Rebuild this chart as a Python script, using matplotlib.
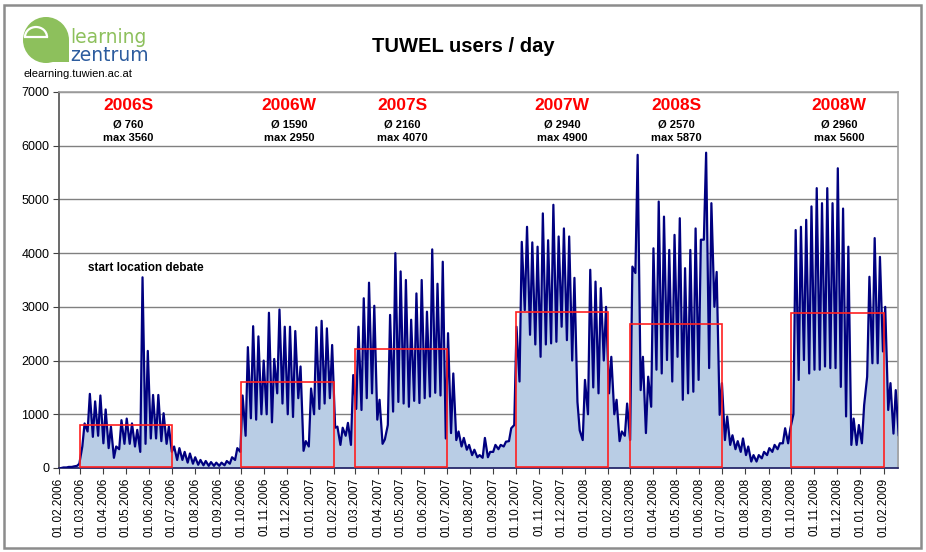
import matplotlib
matplotlib.use('Agg')
import matplotlib.pyplot as plt
import matplotlib.dates as mdates
import matplotlib.patches as mpatches
import numpy as np

# weekly readings, week 0 starts 01.02.2006
# weekday peak and weekend low per week
weekly_peak = [
    10, 20, 30, 80,
    830, 1380, 1240, 1350, 1090, 770, 400, 890, 920, 830, 710, 3550,
    2180, 1360, 1360, 1020, 770, 400, 370, 300, 270,
    200, 150, 130, 110, 100, 100, 130, 200, 370, 1350,
    2250, 2640, 2450, 2000, 2890, 2030, 2950, 2630, 2630, 2550, 1890,
    500, 1480, 2620, 2740, 2600, 2290,
    770, 750, 840, 1730,
    2630, 3160, 3450, 3020, 1270, 530, 2850, 4000, 3660, 3500, 2760,
    3250, 3500, 2910, 4070, 3430, 3840, 2510,
    1760, 680, 560, 430, 340, 240, 560, 300, 430, 430, 490, 740,
    2630, 4210, 4490, 4200, 4120, 4740, 4240, 4900, 4310, 4460, 4310,
    3540, 700, 1640, 3690, 3470, 3350, 3000,
    2070, 1270, 680,
    1200, 3750, 5830, 2070, 1700, 4090, 4960, 4680, 4060, 4340, 4650,
    3720, 4060, 4460, 4250, 5870, 4930, 3650, 1580,
    960, 610, 500, 550, 400, 240, 240, 300, 370, 430, 460, 740, 740,
    4430, 4490, 4620, 4870, 5210, 4930, 5210, 4930, 5580, 4830, 4120,
    920, 800, 1170, 3560, 4280, 3930, 3000,
    1580, 1450, 1450,
]
weekly_low = [
    0, 10, 20, 40,
    400, 680, 580, 600, 460, 370, 190, 350, 450, 450, 400, 300,
    450, 550, 550, 500, 450, 300, 150, 150, 100,
    80, 60, 50, 40, 40, 40, 50, 80, 150, 300,
    600, 925, 900, 1000, 1000, 850, 1390, 1200, 1000, 950, 1300,
    320, 400, 1000, 1100, 1200, 1300,
    750, 430, 600, 430,
    1100, 1080, 1300, 1390, 900, 450, 800, 1050, 1230, 1200, 1140,
    1250, 1210, 1300, 1330, 1400, 1350, 550,
    650, 520, 400, 340, 240, 200, 190, 200, 300, 350, 400, 500,
    800, 1610, 2940, 2480, 2300, 2070, 2300, 2320, 2350, 2630, 2380,
    2000, 1230, 520, 1000, 1500, 1390, 2000,
    1390, 1000, 500,
    600, 520, 3630, 1450, 650, 1140, 1830, 1760, 2010, 1610, 2070,
    1270, 1390, 1420, 1640, 4250, 1860, 3000, 990,
    520, 430, 350, 300, 240, 120, 120, 180, 240, 300, 350, 460, 460,
    1000, 1640, 2010, 1760, 1830, 1830, 1890, 1860, 1860, 1510, 960,
    430, 430, 460, 1700, 1950, 1950, 2170,
    1080, 640, 600,
]

sem_names = ['2006S', '2006W', '2007S', '2007W', '2008S', '2008W']
sem_avg = [760, 1590, 2160, 2940, 2570, 2960]
sem_max = [3560, 2950, 4070, 4900, 5870, 5600]
sem_start = ['2006-03-01', '2006-10-01', '2007-03-01', '2007-10-01', '2008-03-01', '2008-10-01']
sem_end = ['2006-07-01', '2007-02-01', '2007-07-01', '2008-02-01', '2008-07-01', '2009-02-01']
sem_level = [800, 1600, 2220, 2900, 2690, 2890]
sem_label_x = [128, 289, 402, 562, 676, 839]

start = mdates.date2num(np.datetime64('2006-02-01'))
end = mdates.date2num(np.datetime64('2009-02-20'))

t, v = [], []
for k in range(len(weekly_peak)):
    t.append(start + 7 * k + 3)
    v.append(weekly_low[k])
    t.append(start + 7 * k + 6)
    v.append(weekly_peak[k])
t = np.array(t)
v = np.array(v)

fig = plt.figure(figsize=(9.26, 5.52), dpi=100)
fig.patch.set_facecolor('white')

# overlay in pixel coordinates for frame, logo and labels
ov = fig.add_axes([0, 0, 1, 1])
ov.set_xlim(0, 926)
ov.set_ylim(552, 0)
ov.axis('off')
ov.add_patch(mpatches.Rectangle((4, 5), 917, 543, fill=False, edgecolor='#8c8c8c', lw=1.8))

green = '#8dc05c'
ov.add_patch(mpatches.Circle((46, 40), 23, color=green, lw=0))
ov.add_patch(mpatches.Rectangle((46, 40), 23, 22, color=green, lw=0))
ov.add_patch(mpatches.Arc((36, 37), 22, 20, theta1=180, theta2=360, color='white', lw=1.6))
ov.plot([25, 47], [37, 37], color='white', lw=1.6)
ov.text(70, 43, 'learning', color=green, fontsize=13.5, va='baseline', ha='left',
        family='DejaVu Sans')
ov.text(70, 61, 'zentrum', color='#2d5c9e', fontsize=13.5, va='baseline', ha='left',
        family='DejaVu Sans')
ov.text(24, 77, 'elearning.tuwien.ac.at', fontsize=8, va='baseline', ha='left',
        family='Liberation Sans')
ov.text(463, 47, 'TUWEL users / day', fontsize=14.5, fontweight='bold', ha='center',
        va='center', family='Liberation Sans')

for i in range(len(sem_names)):
    ov.text(sem_label_x[i], 106, sem_names[i], color='#ff0000', fontsize=12.5,
            fontweight='bold', ha='center', va='center', family='Liberation Sans')
    ov.text(sem_label_x[i], 124, '\u00d8 %d' % sem_avg[i], fontsize=8,
            fontweight='bold', ha='center', va='center', family='Liberation Sans')
    ov.text(sem_label_x[i], 138, 'max %d' % sem_max[i], fontsize=8,
            fontweight='bold', ha='center', va='center', family='Liberation Sans')

ax = fig.add_axes([59 / 926, 1 - 468 / 552, (898 - 59) / 926, (468 - 92) / 552])
ax.set_facecolor('none')
ax.fill_between(t, 0, v, color='#b9cde5', lw=0, zorder=1)
ax.plot(t, v, color='#000080', lw=1.6, zorder=3)

for i in range(len(sem_names)):
    x0 = mdates.date2num(np.datetime64(sem_start[i]))
    x1 = mdates.date2num(np.datetime64(sem_end[i]))
    ax.add_patch(mpatches.Rectangle((x0, 20), x1 - x0, sem_level[i] - 20, fill=False,
                                    edgecolor='#ff2020', lw=1.2, zorder=4))

ax.text(mdates.date2num(np.datetime64('2006-03-11')), 3720, 'start location debate',
        fontsize=8.5, fontweight='bold', ha='left', va='center', family='Liberation Sans')

ax.set_xlim(start, end)
ax.set_ylim(0, 7000)
ax.set_yticks(range(0, 7001, 1000))
ax.grid(axis='y', color='#808080', lw=1, zorder=0)
ax.set_axisbelow(True)

month0 = np.datetime64('2006-02', 'M')
months = [mdates.date2num((month0 + np.timedelta64(m, 'M')).astype('datetime64[D]'))
          for m in range(37)]
ax.set_xticks(months)
ax.set_xticklabels([mdates.num2date(m).strftime('%d.%m.%Y') for m in months],
                   rotation=90, fontsize=8.5, family='Liberation Sans')
for lab in ax.get_yticklabels():
    lab.set_fontsize(9)
    lab.set_family('Liberation Sans')
ax.tick_params(axis='both', direction='out', length=4, color='#404040', pad=3)

ax.spines['left'].set_color('#505050')
ax.spines['bottom'].set_color('#1a1a60')
ax.spines['top'].set_color('#a0a0a0')
ax.spines['right'].set_color('#a0a0a0')
for s in ax.spines.values():
    s.set_linewidth(1.2)

fig.savefig('out.png', dpi=100)
